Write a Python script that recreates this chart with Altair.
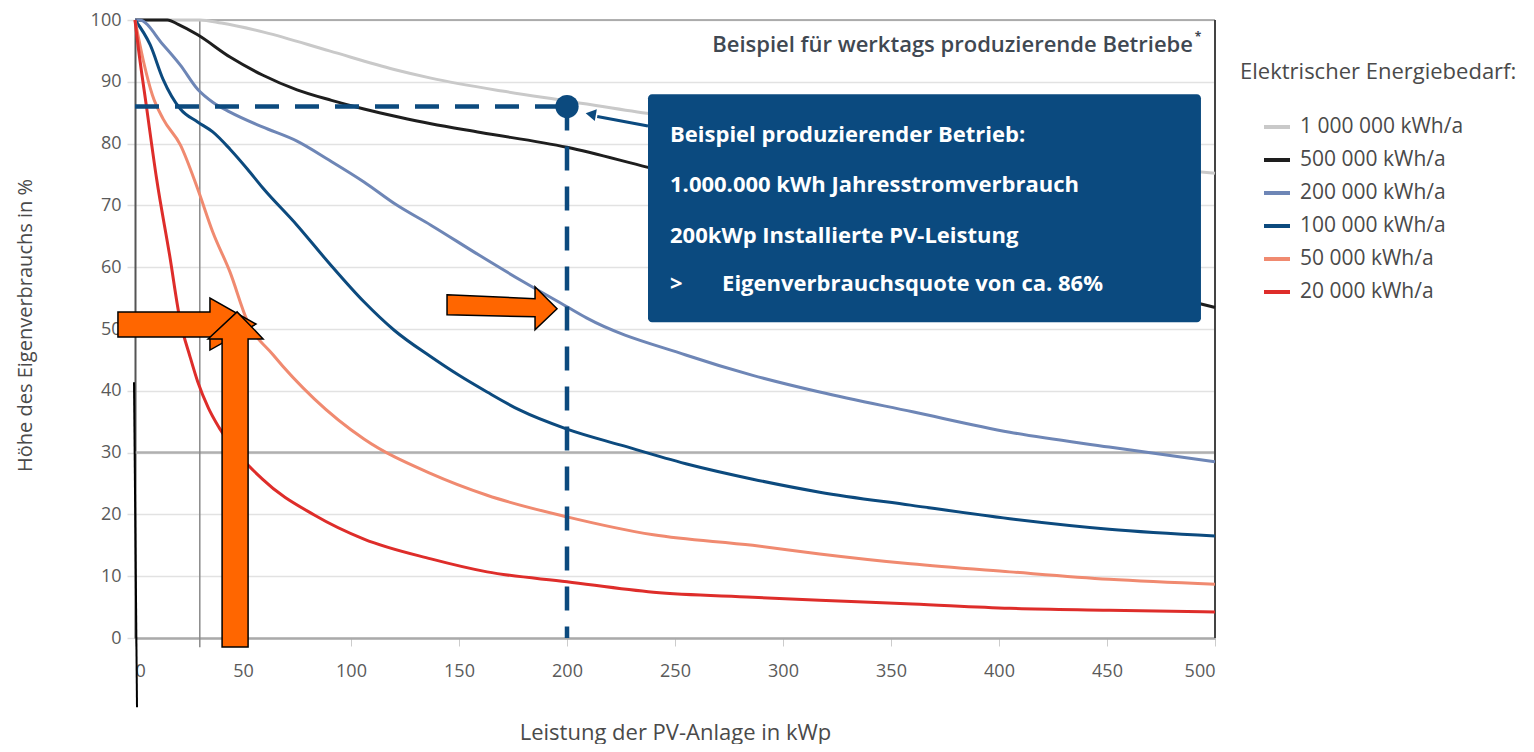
import altair as alt
import pandas as pd

FONT = "Open Sans"

# ---------------- data ----------------
series_names = ["1 000 000 kWh/a", "500 000 kWh/a", "200 000 kWh/a",
                "100 000 kWh/a", "50 000 kWh/a", "20 000 kWh/a"]
series_colors = ["#c9c9c9", "#1e1e1e", "#6e86b6", "#0c4a7e", "#f08a70", "#de2d2a"]

kw_1000k = [0, 10, 20, 30, 40, 60, 90, 120, 137, 170, 200, 237, 300, 350, 400, 450, 500]
pct_1000k = [100, 100, 100, 100, 99.5, 98, 95, 92, 90.6, 88.5, 86.9, 84.9, 82.2, 80.3, 78.5, 76.8, 75.2]

kw_500k = [0, 10, 15, 20, 29, 44, 59, 75, 91, 106, 122, 137, 160, 200, 237, 280, 320, 360, 400, 450, 500]
pct_500k = [100, 100, 100, 99.3, 97.6, 94, 91.1, 88.7, 87, 85.6, 84.3, 83.2, 81.8, 79.4, 76.2, 72.5, 69, 65.5, 62, 57.8, 53.5]

kw_200k = [0, 2, 13, 21, 29, 36, 44, 59, 75, 90, 106, 121, 137, 160, 180, 200, 209, 255, 286, 317, 360, 405, 451, 500]
pct_200k = [100, 100, 96, 92.7, 88.8, 86.7, 85.1, 82.7, 80.4, 77.3, 73.8, 70.1, 66.8, 61.8, 57.6, 53.6, 51.8, 45.8, 42.5, 39.8, 36.6, 33.3, 30.9, 28.5]

kw_100k = [0, 7, 13, 21, 29, 36, 44, 52, 59, 75, 90, 106, 120, 137, 150, 163, 178, 200, 225, 255, 286, 317, 359, 405, 451, 500]
pct_100k = [100, 96, 90.4, 85.6, 83.5, 81.9, 79.1, 75.9, 72.9, 66.8, 60.6, 54.4, 49.8, 45.5, 42.5, 39.8, 36.9, 33.8, 31.2, 28.2, 25.7, 23.6, 21.5, 19.3, 17.6, 16.5]

kw_50k = [0, 4, 8, 13, 21, 29, 36, 44, 52, 64, 83, 106, 137, 163, 200, 240, 286, 317, 359, 405, 451, 500]
pct_50k = [100, 93.2, 87.9, 84, 79.8, 72.7, 65.7, 59.2, 51.3, 45.8, 38.7, 32.2, 26.6, 23.1, 19.6, 16.7, 15, 13.6, 12, 10.7, 9.5, 8.7]

kw_20k = [0, 1, 5.5, 10, 16, 21, 25.5, 29, 34, 39, 59, 83, 106, 137, 163, 200, 240, 286, 317, 360, 405, 451, 500]
pct_20k = [100, 97, 85.5, 74.3, 62, 51.2, 45.5, 41.5, 37.2, 34, 25.7, 19.9, 16, 12.8, 10.7, 9.1, 7.4, 6.6, 6.1, 5.5, 4.8, 4.5, 4.2]

x_ticks = list(range(0, 501, 50))
y_ticks = list(range(0, 101, 10))

example_kw = 200
example_pct = 86

box_lines = ["Beispiel produzierender Betrieb:",
             "1.000.000 kWh Jahresstromverbrauch",
             "200kWp Installierte PV-Leistung"]
box_last_prefix = ">"
box_last_text = "Eigenverbrauchsquote von ca. 86%"
caption = "Beispiel für werktags produzierende Betriebe"
legend_title = "Elektrischer Energiebedarf:"

# ---------------- tables ----------------
rows = []
for name, kws, pcts in zip(series_names,
                           [kw_1000k, kw_500k, kw_200k, kw_100k, kw_50k, kw_20k],
                           [pct_1000k, pct_500k, pct_200k, pct_100k, pct_50k, pct_20k]):
    for i, (k, p) in enumerate(zip(kws, pcts)):
        rows.append({"serie": name, "kw": k, "pct": p, "ord": i})
df = pd.DataFrame(rows)

xs = alt.Scale(domain=[0, 500], nice=False, zero=False)
ys = alt.Scale(domain=[0, 100], nice=False, zero=False)

x_axis = alt.Axis(values=x_ticks, grid=False, domainColor="#aaaaaa", domainWidth=2.5,
                  tickColor="#cccccc", tickSize=8, tickWidth=1,
                  labelFont=FONT, labelFontSize=18, labelColor="#5a5a5a", labelPadding=16,
                  title="Leistung der PV-Anlage in kWp", titleFont=FONT, titleFontSize=22,
                  titleFontWeight="normal", titleColor="#4a4a4a",
                  titleX=540, titleY=94, titleBaseline="middle", titleAlign="center")
y_axis = alt.Axis(values=y_ticks, grid=True, gridColor="#e2e2e2", gridWidth=1.5,
                  domainColor="#555555", domainWidth=2,
                  tickColor="#dddddd", tickSize=8, tickWidth=1.5,
                  labelFont=FONT, labelFontSize=18, labelColor="#5a5a5a", labelPadding=6,
                  title="Höhe des Eigenverbrauchs in %", titleFont=FONT, titleFontSize=20,
                  titleFontWeight="normal", titleColor="#4a4a4a",
                  titleX=-110, titleY=305, titleAngle=-90, titleBaseline="middle", titleAlign="center")

X = lambda f="kw": alt.X(f"{f}:Q", scale=xs, axis=x_axis)
Y = lambda f="pct": alt.Y(f"{f}:Q", scale=ys, axis=y_axis)

# special gridline at 30 and reference lines
grid30 = alt.Chart(pd.DataFrame({"kw": [0], "kw2": [500], "pct": [30]})).mark_rule(
    color="#b0b0b0", strokeWidth=2.5).encode(x=X(), x2="kw2:Q", y=Y())
vline30 = alt.Chart(pd.DataFrame({"kw": [30], "pct": [-1.5], "pct2": [100]})).mark_rule(
    color="#8a8a8a", strokeWidth=1.5).encode(x=X(), y=Y(), y2="pct2:Q")
right_frame = alt.Chart(pd.DataFrame({"kw": [500], "pct": [0], "pct2": [100]})).mark_rule(
    color="#444444", strokeWidth=2).encode(x=X(), y=Y(), y2="pct2:Q")
top_frame = alt.Chart(pd.DataFrame({"kw": [0], "kw2": [500], "pct": [100]})).mark_rule(
    color="#999999", strokeWidth=1.5).encode(x=X(), x2="kw2:Q", y=Y())

lines = alt.Chart(df).mark_line(strokeWidth=3, interpolate="monotone").encode(
    x=X(), y=Y(),
    color=alt.Color("serie:N",
                    scale=alt.Scale(domain=series_names, range=series_colors),
                    sort=series_names,
                    legend=alt.Legend(title=None, orient="none", legendX=1127, legendY=92,
                                      padding=0, symbolType="stroke", symbolSize=676,
                                      symbolStrokeWidth=4, labelFont=FONT, labelFontSize=21,
                                      labelLimit=400,
                                      labelColor="#4a4a4a", labelOffset=8, rowPadding=8)),
    order="ord:Q")

dash_col = "#0c4a7e"
hdash = alt.Chart(pd.DataFrame({"kw": [0], "kw2": [example_kw], "pct": [example_pct]})).mark_rule(
    color=dash_col, strokeWidth=4.5, strokeDash=[24, 16]).encode(x=X(), x2="kw2:Q", y=Y())
vdash = alt.Chart(pd.DataFrame({"kw": [example_kw], "pct": [example_pct], "pct2": [0]})).mark_rule(
    color=dash_col, strokeWidth=4.5, strokeDash=[24, 16]).encode(x=X(), y=Y(), y2="pct2:Q")
dot = alt.Chart(pd.DataFrame({"kw": [example_kw], "pct": [example_pct]})).mark_circle(
    color=dash_col, size=540, opacity=1).encode(x=X(), y=Y())

box_col = "#0b4a7f"
box = alt.Chart(pd.DataFrame({"kw": [237.5], "kw2": [493.5], "pct": [51.1], "pct2": [88]})).mark_rect(
    color=box_col, cornerRadius=4).encode(x=X(), x2="kw2:Q", y=Y(), y2="pct2:Q")
pointer = alt.Chart(pd.DataFrame({"kw": [237.5], "kw2": [214.0], "pct": [82.85], "pct2": [84.4]})).mark_rule(
    color=box_col, strokeWidth=3).encode(x=X(), x2="kw2:Q", y=Y(), y2="pct2:Q")
pointer_head = alt.Chart(pd.DataFrame({"kw": [211.0], "pct": [84.75]})).mark_point(
    shape="triangle-left", filled=True, color=box_col, size=140, angle=10, opacity=1).encode(x=X(), y=Y())

box_text = alt.Chart(pd.DataFrame({"kw": [247.7, 247.7, 247.7, 247.7, 271.8],
                                   "pct": [81.4, 73.3, 65.0, 57.3, 57.3],
                                   "t": box_lines + [box_last_prefix, box_last_text]})).mark_text(
    align="left", baseline="middle", color="white", font=FONT, fontSize=22, fontWeight="bold").encode(
    x=X(), y=Y(), text="t:N")

cap = alt.Chart(pd.DataFrame({"kw": [489.8], "pct": [96.0], "t": [caption]})).mark_text(
    align="right", baseline="middle", color="#3f4852", font=FONT, fontSize=22, fontWeight=600).encode(
    x=X(), y=Y(), text="t:N")
cap_star = alt.Chart(pd.DataFrame({"kw": [490.6], "pct": [97.3], "t": ["*"]})).mark_text(
    align="left", baseline="middle", color="#3f4852", font=FONT, fontSize=12, fontWeight="bold").encode(
    x=X(), y=Y(), text="t:N")

leg_title = alt.Chart(pd.DataFrame({"kw": [511.6], "pct": [91.6], "t": [legend_title]})).mark_text(
    align="left", baseline="middle", color="#4a4a4a", font=FONT, fontSize=22).encode(
    x=X(), y=Y(), text="t:N")

# orange highlight arrows (shapes in pixels, anchored in data space)
arrow_h_path = "M-92,-12 L0,-12 L0,-26 L46,0 L0,26 L0,13 L-92,13 Z"
arrow_v_path = "M-14,308 L-14,0 L-28,0 L1,-27 L27,0 L12,0 L12,308 Z"
arrow_r_path = "M-88,-12 L0,-8 L0,-20 L22,2 L0,23 L0,10 L-88,8 Z"
orange = "#ff6600"
arr1 = alt.Chart(pd.DataFrame({"kw": [34.7], "pct": [50.8]})).mark_point(
    shape=arrow_h_path, size=4, filled=True, fill=orange, stroke="black", strokeWidth=1.5, opacity=1).encode(x=X(), y=Y())
arr2 = alt.Chart(pd.DataFrame({"kw": [46.8], "pct": [48.4]})).mark_point(
    shape=arrow_v_path, size=4, filled=True, fill=orange, stroke="black", strokeWidth=1.5, opacity=1).encode(x=X(), y=Y())
arr3 = alt.Chart(pd.DataFrame({"kw": [185.2], "pct": [53.6]})).mark_point(
    shape=arrow_r_path, size=4, filled=True, fill=orange, stroke="black", strokeWidth=1.5, opacity=1).encode(x=X(), y=Y())

slant = alt.Chart(pd.DataFrame({"kw": [-0.46], "kw2": [0.93], "pct": [41.4], "pct2": [-11.2]})).mark_rule(
    color="black", strokeWidth=2).encode(x=X(), x2="kw2:Q", y=Y(), y2="pct2:Q")

chart = alt.layer(
    grid30, vline30, top_frame, right_frame, lines, hdash, vdash, dot,
    box, pointer, pointer_head, box_text, cap, cap_star, leg_title,
    arr1, arr2, arr3, slant
).properties(
    width=1080, height=618,
    autosize=alt.AutoSizeParams(type="none"),
    padding={"left": 127, "top": 12, "right": 311, "bottom": 106},
).configure_view(stroke=None).configure(background="white")

chart.save("out.html", embed_options={"renderer": "svg", "actions": False})
